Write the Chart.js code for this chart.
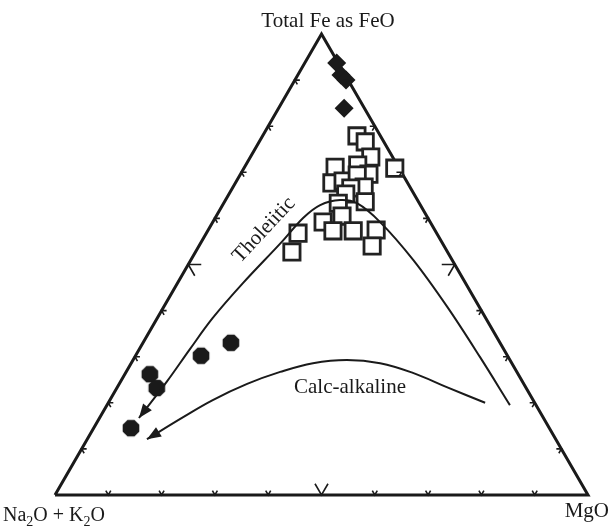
<!DOCTYPE html>
<html>
<head>
<meta charset="utf-8">
<script src="https://cdn.jsdelivr.net/npm/chart.js@4.4.0/dist/chart.umd.min.js"></script>
<style>
  html, body { margin: 0; padding: 0; background: #fff; }
  canvas { display: block; }
</style>
</head>
<body>
<canvas id="afm" width="613" height="530"></canvas>
<script>
// every row is [FeO, Na2O + K2O, MgO] in %
const diamonds = [
  [93.7, 0.3, 6.0], [91.1, 0.8, 8.1], [90.0, 0.4, 9.6], [83.9, 3.8, 12.3]
];
const squares = [
  [77.9, 4.4, 17.7], [76.6, 3.5, 19.9], [73.3, 4.1, 22.6], [70.9, 0.8, 28.3],
  [71.1, 11.9, 17.0], [71.6, 7.4, 21.0], [69.6, 6.3, 24.1], [67.7, 14.2, 18.1],
  [68.1, 11.9, 20.0], [69.4, 8.6, 22.0], [66.8, 8.6, 24.6], [66.6, 11.2, 22.2],
  [65.3, 12.8, 21.9], [63.3, 15.2, 21.5], [63.6, 10.0, 26.4], [60.5, 15.9, 23.6],
  [59.2, 20.1, 20.7], [57.3, 19.2, 23.5], [57.3, 15.4, 27.3], [57.5, 11.0, 31.5],
  [54.0, 13.5, 32.5], [56.8, 26.0, 17.2], [52.7, 29.2, 18.1]
];
const circles = [
  [33.0, 50.5, 16.5], [30.2, 57.5, 12.3], [26.2, 69.1, 4.7], [23.2, 69.3, 7.5],
  [14.5, 78.5, 7.0]
];
const tholeiiticTrend = [
  [19.5, 4.9, 75.6], [29.9, 5.3, 64.8], [40.8, 6.0, 53.2], [51.0, 7.3, 41.7],
  [59.2, 9.4, 31.4], [63.3, 11.7, 25.0], [64.0, 14.5, 21.5], [62.9, 18.8, 18.3],
  [60.1, 23.4, 16.5], [54.9, 30.0, 15.1], [46.0, 41.7, 12.3], [38.4, 51.2, 10.4],
  [31.7, 58.8, 9.5], [24.7, 66.6, 8.7], [16.7, 75.9, 7.4]
];
const calcAlkalineTrend = [
  [20.0, 9.3, 70.7], [23.4, 14.8, 61.8], [26.5, 19.6, 53.9], [28.6, 24.7, 46.7],
  [29.3, 30.6, 40.1], [28.6, 37.3, 34.1], [26.7, 44.4, 28.9], [24.1, 51.9, 24.0],
  [20.6, 60.1, 19.3], [16.9, 67.5, 15.6], [12.1, 76.7, 11.2]
];
const corners = [[0, 100, 0], [0, 0, 100], [100, 0, 0], [0, 100, 0]];
const cornerLabels = ['Total Fe as FeO', 'Na2O + K2O', 'MgO'];
const trendLabels = ['Tholeiitic', 'Calc-alkaline'];
const tickSteps = [10, 20, 30, 40, 50, 60, 70, 80, 90];

const H = Math.sqrt(3) / 2 * 100;
const SERIF = '"Liberation Serif", "Times New Roman", serif';

const toXY = ([f, a, m]) => {
  const s = f + a + m;
  return {x: (m + f / 2) / s * 100, y: f / s * H};
};

const makeOctagon = (r) => {
  const c = document.createElement('canvas');
  c.width = c.height = Math.ceil(r * 2) + 2;
  const g = c.getContext('2d');
  const m = c.width / 2;
  g.beginPath();
  for (let k = 0; k < 8; k++) {
    const a = Math.PI / 8 + k * Math.PI / 4;
    g.lineTo(m + r * Math.cos(a), m + r * Math.sin(a));
  }
  g.closePath();
  g.fillStyle = '#1a1a1a';
  g.fill();
  return c;
};

const unit = (a, b) => {
  const dx = b[0] - a[0];
  const dy = b[1] - a[1];
  const d = Math.hypot(dx, dy);
  return [dx / d, dy / d];
};

const drawSubText = (ctx, text, x, y, size) => {
  let cx = x;
  for (const ch of text) {
    const sub = /[0-9]/.test(ch);
    ctx.font = `${sub ? Math.round(size * 0.68) : size}px ${SERIF}`;
    ctx.fillText(ch, cx, sub ? y + 5 : y);
    cx += ctx.measureText(ch).width;
  }
};

const afmPlugin = {
  id: 'afm',
  afterDatasetsDraw(chart) {
    const ctx = chart.ctx;
    const sx = chart.scales.x;
    const sy = chart.scales.y;
    const pix = (p) => {
      const q = toXY(p);
      return [sx.getPixelForValue(q.x), sy.getPixelForValue(q.y)];
    };
    const A = pix(corners[0]);
    const M = pix(corners[1]);
    const F = pix(corners[2]);

    ctx.save();
    ctx.strokeStyle = '#1a1a1a';
    ctx.lineWidth = 1.6;
    const sides = [[A, M, F], [A, F, M], [M, F, A]];
    sides.forEach(([p0, p1, opp]) => {
      tickSteps.forEach((t) => {
        const p = [p0[0] + (p1[0] - p0[0]) * t / 100, p0[1] + (p1[1] - p0[1]) * t / 100];
        const len = t === 50 ? 13 : 5;
        const d1 = unit(p0, opp);
        const d2 = unit(p1, opp);
        ctx.beginPath();
        ctx.moveTo(p[0] + d1[0] * len, p[1] + d1[1] * len);
        ctx.lineTo(p[0], p[1]);
        ctx.lineTo(p[0] + d2[0] * len, p[1] + d2[1] * len);
        ctx.stroke();
      });
    });

    // arrow heads at the end of both trends
    [1, 2].forEach((i) => {
      const pts = chart.getDatasetMeta(i).data;
      const e = pts[pts.length - 1];
      const s = pts[pts.length - 2];
      const d = unit([s.x, s.y], [e.x, e.y]);
      const len = 14;
      const w = 5.5;
      ctx.beginPath();
      ctx.moveTo(e.x, e.y);
      ctx.lineTo(e.x - d[0] * len - d[1] * w, e.y - d[1] * len + d[0] * w);
      ctx.lineTo(e.x - d[0] * len + d[1] * w, e.y - d[1] * len - d[0] * w);
      ctx.closePath();
      ctx.fillStyle = '#1a1a1a';
      ctx.fill();
    });

    ctx.fillStyle = '#1a1a1a';
    ctx.font = `21px ${SERIF}`;
    ctx.textAlign = 'center';
    ctx.textBaseline = 'alphabetic';
    ctx.fillText(cornerLabels[0], 328, 27);

    ctx.textAlign = 'left';
    drawSubText(ctx, cornerLabels[1], 3, 521, 20);

    ctx.font = `21px ${SERIF}`;
    ctx.textAlign = 'right';
    ctx.fillText(cornerLabels[2], 609, 517);

    ctx.textAlign = 'center';
    ctx.textBaseline = 'middle';
    ctx.save();
    ctx.translate(264, 230);
    ctx.rotate(-47 * Math.PI / 180);
    ctx.fillText(trendLabels[0], 0, 0);
    ctx.restore();
    ctx.fillText(trendLabels[1], 350, 387);
    ctx.restore();
  }
};

new Chart(document.getElementById('afm'), {
  type: 'scatter',
  data: {
    datasets: [
      {
        type: 'line',
        data: corners.map(toXY),
        borderColor: '#1a1a1a',
        borderWidth: 3,
        pointRadius: 0,
        order: 5,
        clip: false
      },
      {
        label: trendLabels[0],
        type: 'line',
        data: tholeiiticTrend.map(toXY),
        borderColor: '#1a1a1a',
        borderWidth: 2,
        tension: 0.35,
        pointRadius: 0,
        order: 0,
        clip: false
      },
      {
        label: trendLabels[1],
        type: 'line',
        data: calcAlkalineTrend.map(toXY),
        borderColor: '#1a1a1a',
        borderWidth: 2,
        tension: 0.4,
        pointRadius: 0,
        order: 0,
        clip: false
      },
      {
        data: squares.map(toXY),
        pointStyle: 'rect',
        pointRadius: 11.5,
        backgroundColor: '#fff',
        borderColor: '#222',
        borderWidth: 2.8,
        order: 2,
        clip: false
      },
      {
        data: diamonds.map(toXY),
        pointStyle: 'rectRot',
        pointRadius: 9.5,
        backgroundColor: '#1a1a1a',
        borderColor: '#1a1a1a',
        borderWidth: 0,
        order: 1,
        clip: false
      },
      {
        data: circles.map(toXY),
        pointStyle: makeOctagon(9),
        backgroundColor: '#1a1a1a',
        order: 1,
        clip: false
      }
    ]
  },
  options: {
    responsive: false,
    animation: false,
    events: [],
    layout: {padding: {left: 55, right: 25, top: 34, bottom: 35}},
    plugins: {legend: {display: false}, tooltip: {enabled: false}},
    scales: {
      x: {type: 'linear', min: 0, max: 100, display: false},
      y: {type: 'linear', min: 0, max: H, display: false}
    }
  },
  plugins: [afmPlugin]
});
</script>
</body>
</html>
